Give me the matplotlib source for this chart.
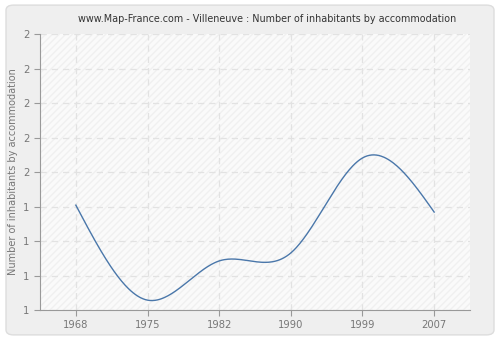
import numpy as np
import matplotlib.pyplot as plt
from matplotlib.patches import FancyBboxPatch

years = ["1968", "1975", "1982", "1990", "1999", "2007"]
values = [1.38, 1.036, 1.178, 1.207, 1.551, 1.355]
y_ticks = [1.0, 1.125, 1.25, 1.375, 1.5, 1.625, 1.75, 1.875, 2.0]


def natural_spline(x, y, xs):
    # plain natural cubic spline, only used to draw the smooth line
    x = np.asarray(x, float)
    y = np.asarray(y, float)
    n = len(x)
    h = np.diff(x)
    A = np.zeros((n, n))
    b = np.zeros(n)
    A[0, 0] = A[-1, -1] = 1
    for i in range(1, n - 1):
        A[i, i - 1] = h[i - 1]
        A[i, i] = 2 * (h[i - 1] + h[i])
        A[i, i + 1] = h[i]
        b[i] = 3 * ((y[i + 1] - y[i]) / h[i] - (y[i] - y[i - 1]) / h[i - 1])
    c = np.linalg.solve(A, b)
    out = np.empty_like(xs)
    for k, t in enumerate(xs):
        i = min(max(np.searchsorted(x, t) - 1, 0), n - 2)
        dx = t - x[i]
        bi = (y[i + 1] - y[i]) / h[i] - h[i] * (2 * c[i] + c[i + 1]) / 3
        di = (c[i + 1] - c[i]) / (3 * h[i])
        out[k] = y[i] + bi * dx + c[i] * dx ** 2 + di * dx ** 3
    return out


fig = plt.figure(figsize=(5, 3.4), dpi=100)
fig.patch.set_facecolor("white")
bg = FancyBboxPatch((0.012, 0.015), 0.976, 0.97, boxstyle="round,pad=0,rounding_size=0.015",
                    transform=fig.transFigure, facecolor="#efefef", edgecolor="#dddddd", lw=1,
                    zorder=-10)
fig.patches.append(bg)

ax = fig.add_axes([0.08, 0.088, 0.86, 0.812])
ax.set_facecolor("#fafafa")

pos = np.arange(len(years))
xs = np.linspace(0, len(years) - 1, 300)
ax.plot(xs, natural_spline(pos, values, xs), color="#4a77aa", lw=1)

ax.set_xlim(-0.5, len(years) - 0.5)
ax.set_ylim(1, 2)
ax.set_xticks(pos)
ax.set_xticklabels(years)
ax.set_yticks(y_ticks)
ax.set_yticklabels([f"{v:.0f}" if v != 1.5 else "2" for v in y_ticks])

# hatched background
ax.fill_between([-0.5, len(years) - 0.5], 1, 2, facecolor="none", edgecolor="#f0f0f0",
                hatch="/////", lw=0, zorder=0)

ax.grid(True, color="#e2e2e2", ls=(0, (5, 4)), lw=0.9)
ax.set_axisbelow(True)
for s in ["top", "right"]:
    ax.spines[s].set_visible(False)
for s in ["left", "bottom"]:
    ax.spines[s].set_color("#999999")
ax.tick_params(colors="#999999", labelcolor="#777777", labelsize=7.2, length=4)

ax.set_ylabel("Number of inhabitants by accommodation", color="#777777", fontsize=7)
fig.text(0.534, 0.945, "www.Map-France.com - Villeneuve : Number of inhabitants by accommodation",
         ha="center", va="center", fontsize=6.9, color="#333333")

fig.savefig("out.png", dpi=100)
